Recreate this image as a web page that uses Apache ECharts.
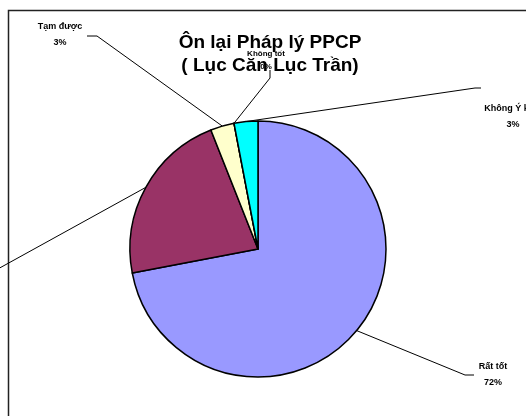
<!DOCTYPE html>
<html>
<head>
<meta charset="utf-8">
<script src="https://cdn.jsdelivr.net/npm/echarts@6/dist/echarts.min.js"></script>
<style>html,body{margin:0;padding:0;background:#fff}#c{width:526px;height:416px}</style>
</head>
<body>
<div id="c"></div>
<script>
var titleText = 'Ôn lại Pháp lý PPCP\n( Lục Căn Lục Trần)';
var categories = ['Rất tốt', 'Tốt', 'Tạm được', 'Không tốt', 'Không Ý kiến'];
var values = [72, 22, 3, 0, 3];
var colors = ['#9999FF', '#993366', '#FFFFCC', '#FFFFFF', '#00FFFF'];

// label placement (layout only)
var labelPos = [
  {x: 493, y: 375, bend: [[465, 375], [474, 375]], size: 9},
  {x: -40, y: 270, bend: [[-4, 270], [-14, 270]], size: 9},
  {x: 60, y: 35, bend: [[97, 36], [87, 36]], size: 9},
  {x: 266, y: 60, bend: [[270, 78], [270, 70]], size: 8},
  {x: 513, y: 117, bend: [[475, 88], [481, 88]], size: 9}
];

var chart = echarts.init(document.getElementById('c'));
var data = categories.map(function (n, i) {
  return {
    name: n, value: values[i],
    itemStyle: {color: colors[i]},
    label: {fontSize: labelPos[i].size, lineHeight: labelPos[i].size === 8 ? 13 : 16}
  };
});
chart.setOption({
  backgroundColor: '#fff',
  animation: false,
  title: {
    text: titleText,
    left: 265, top: 26,
    textAlign: 'center',
    z: 1,
    textStyle: {fontFamily: 'Liberation Sans, Arial', fontWeight: 'bold', fontSize: 19, lineHeight: 23, color: '#000'}
  },
  graphic: [{
    type: 'rect', shape: {x: 8.5, y: 10.5, width: 700, height: 600},
    style: {fill: 'none', stroke: '#222', lineWidth: 1.5}, z: -1
  }],
  series: [{
    type: 'pie',
    z: 10,
    center: [258, 249],
    radius: 128,
    startAngle: 90,
    clockwise: true,
    avoidLabelOverlap: false,
    data: data,
    itemStyle: {borderColor: '#000', borderWidth: 1.5},
    emphasis: {disabled: true},
    label: {
      show: true,
      formatter: '{b}\n{d}%',
      fontFamily: 'Liberation Sans, Arial',
      fontWeight: 'bold',
      color: '#000',
      align: 'center'
    },
    labelLine: {show: true, lineStyle: {color: '#000', width: 1}},
    labelLayout: function (p) {
      var lp = labelPos[p.dataIndex];
      var start = p.labelLinePoints ? p.labelLinePoints[0] : null;
      var out = {x: lp.x, y: lp.y, align: 'center', verticalAlign: 'middle'};
      if (start) out.labelLinePoints = [start, lp.bend[0], lp.bend[1]];
      return out;
    }
  }]
});
</script>
</body>
</html>
